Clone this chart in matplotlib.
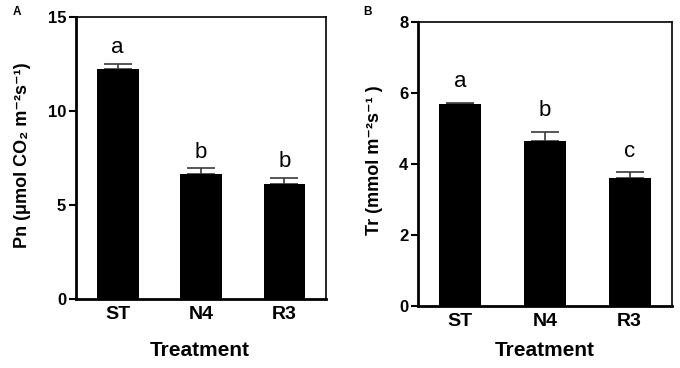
import matplotlib
matplotlib.use("Agg")
import matplotlib.pyplot as plt
import numpy as np

plt.rcParams['font.family'] = ['Liberation Sans', 'DejaVu Sans']

categories = ["ST", "N4", "R3"]
pn_values = [12.23, 6.65, 6.12]
pn_err = [0.27, 0.30, 0.32]
pn_letters = ["a", "b", "b"]
tr_values = [5.70, 4.65, 3.60]
tr_err = [0.02, 0.25, 0.17]
tr_letters = ["a", "b", "c"]

W, H = 680, 368
fig = plt.figure(figsize=(6.8, 3.68), dpi=100)
axA = fig.add_axes([76/W, 1-299/H, 250/W, 282/H])
axB = fig.add_axes([418/W, 1-306/H, 254/W, 284/H])

def draw(ax, vals, errs, letters, ylim, yticks, letter_off):
    x = np.arange(len(categories))
    ax.bar(x, vals, width=0.5, color='black', zorder=2)
    ax.errorbar(x, vals, yerr=[np.zeros(len(vals)), errs], fmt='none',
                ecolor='#3a3a3a', elinewidth=1.2, capsize=10, capthick=1.2, zorder=1)
    for xi, v, e, l in zip(x, vals, errs, letters):
        ax.text(xi, v + e + letter_off, l, ha='center', va='bottom', fontsize=16)
    ax.set_xlim(-0.5, 2.5)
    ax.set_ylim(*ylim)
    ax.set_yticks(yticks)
    ax.set_xticks(x)
    ax.set_xticklabels(categories, fontsize=14, fontweight='bold')
    ax.tick_params(axis='x', length=0, pad=5)
    ax.tick_params(axis='y', direction='out', length=5, width=1.5, labelsize=12, pad=2)
    for lab in ax.get_yticklabels():
        lab.set_fontweight('bold')
    ax.spines['left'].set_linewidth(2)
    ax.spines['bottom'].set_linewidth(2)
    ax.spines['top'].set_linewidth(1.2)
    ax.spines['right'].set_linewidth(1.2)

draw(axA, pn_values, pn_err, pn_letters, (0, 15), [0, 5, 10, 15], 0.3)
draw(axB, tr_values, tr_err, tr_letters, (0, 8), [0, 2, 4, 6, 8], 0.3)

fig.text(23/W, 1-155/H, 'Pn (μmol CO₂ m⁻²s⁻¹)', rotation=90, fontsize=13,
         fontweight='bold', ha='center', va='center')
fig.text(374/W, 1-160/H, 'Tr (mmol m⁻²s⁻¹ )', rotation=90, fontsize=13,
         fontweight='bold', ha='center', va='center')
fig.text(200/W, 1-351/H, 'Treatment', fontsize=15, fontweight='bold', ha='center', va='center')
fig.text(545/W, 1-350/H, 'Treatment', fontsize=15, fontweight='bold', ha='center', va='center')

fig.text(17/W, 1-12/H, 'A', fontsize=8.5, fontweight='bold', ha='center', va='center')
fig.text(368/W, 1-12/H, 'B', fontsize=8.5, fontweight='bold', ha='center', va='center')

fig.savefig('out.png', dpi=100)
